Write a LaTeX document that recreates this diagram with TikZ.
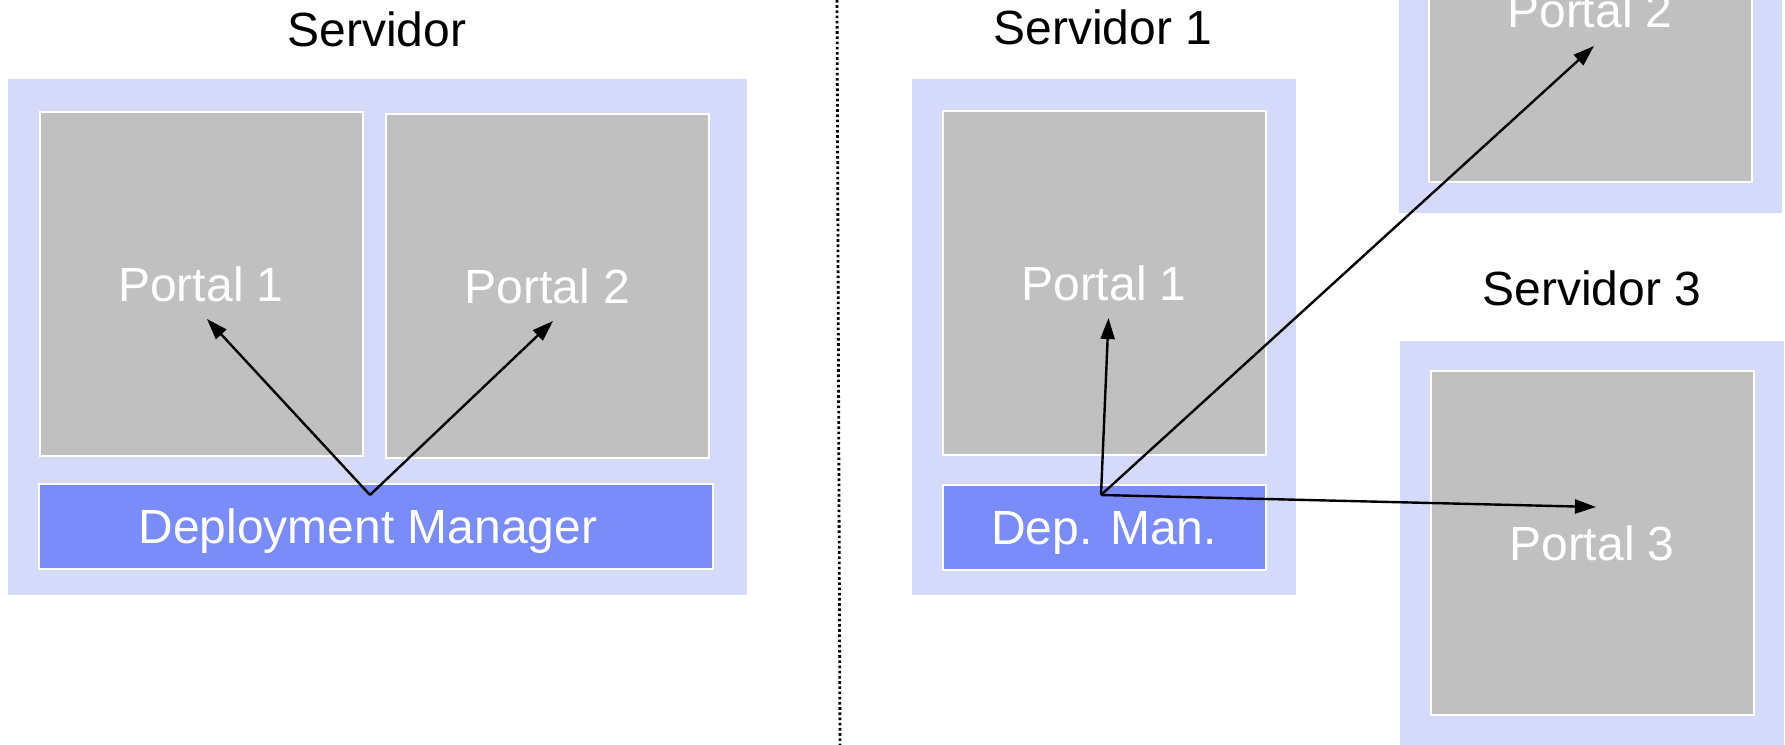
\documentclass[tikz,border=0pt]{standalone}
\usepackage{fontspec}
\setmainfont{Liberation Sans}
\usepackage{tikz}
\usetikzlibrary{arrows.meta,positioning}
\definecolor{srvfill}{RGB}{214,218,250}
\definecolor{portalgray}{RGB}{192,192,192}
\definecolor{mgrblue}{RGB}{122,139,250}
\newcommand{\diagfont}{\fontsize{24}{29}\selectfont}
\tikzset{server node/.style={rectangle, fill=srvfill, inner sep=0pt, outer sep=0pt}}
\tikzset{portal node/.style={rectangle, fill=portalgray, draw=white, line width=1pt,
    inner sep=0pt, outer sep=0pt, text=white, font=\diagfont,
    text height=17.2pt, text depth=0pt, minimum width=161.5pt, minimum height=172pt}}
\tikzset{manager node/.style={portal node, fill=mgrblue, minimum height=42.5pt}}
\tikzset{title node/.style={font=\diagfont, text height=17.2pt, text depth=0pt, inner sep=0pt}}
\tikzset{call edge/.style={draw=black, line width=1.2pt, -{Triangle[length=10.5pt,width=7pt]}}}

\begin{document}
\begin{tikzpicture}
          [x=0.5pt, y=-0.5pt]
          \useasboundingbox (0,0) rectangle (1785,745);
          % one server
          \node [server node, minimum width=369.5pt, minimum height=258pt] (srvL) at (377.5, 337) {};
          \node [title node]   (srvLname) at ( 377,  29) {Servidor};
          \node [portal node]  (portalL1) at ( 201, 284) {Portal 1};
          \node [portal node]  (portalL2) at (547.5, 286) {Portal 2};
          \node [manager node, minimum width=337pt] (dmL) at ( 376, 526.5) {Deployment Manager\hspace*{8pt}};
          \coordinate (srcL)  at (370, 495);
          \coordinate (tipL1) at (207, 319);
          \coordinate (tipL2) at (553, 321);

          % divider
          \coordinate (divtop) at (837,   0);
          \coordinate (divbot) at (840, 745);
          \draw [line width=1.4pt, dash pattern=on 1.3pt off 1.3pt] (divtop) -- (divbot);

          % three servers
          \node [server node, minimum width=192pt, minimum height=258pt]   (srv1) at (1104, 337) {};
          \node [server node, minimum width=191.5pt, minimum height=202.5pt] (srv2) at (1590.5, 10.5) {};
          \node [server node, minimum width=192pt, minimum height=202.5pt] (srv3) at (1592, 543) {};
          \node [title node]   (srv1name) at (1103,  27.5) {Servidor 1};
          \node [title node]   (srv3name) at (1592, 288.5) {Servidor 3};
          \node [portal node]  (portal1)  at (1104, 283) {Portal 1};
          \node [portal node]  (portal2)  at (1590,  10) {Portal 2};
          \node [portal node]  (portal3)  at (1592, 543) {Portal 3};
          \node [manager node] (dm1)      at (1104, 527.5) {Dep. Man.};
          \coordinate (src1) at (1101, 495);
          \coordinate (tip1) at (1108.5, 318);
          \coordinate (tip2) at (1594,  46);
          \coordinate (tip3) at (1596, 507);

          \draw [call edge] (srcL) to (tipL1);
          \draw [call edge] (srcL) to (tipL2);
          \draw [call edge] (src1) to (tip1);
          \draw [call edge] (src1) to (tip2);
          \draw [call edge] (src1) to (tip3);
        \end{tikzpicture}
\end{document}
